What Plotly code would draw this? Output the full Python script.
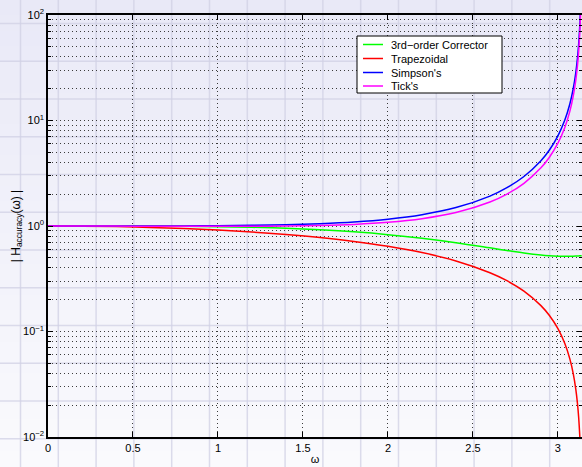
import plotly.graph_objects as go

# ---------------- data ----------------
omega = [0.0, 0.2, 0.4, 0.6, 0.8, 1.0, 1.2, 1.4, 1.6, 1.8, 2.0, 2.2, 2.4, 2.6, 2.7,
         2.8, 2.9, 2.95, 3.0, 3.04, 3.07, 3.09, 3.105, 3.115, 3.122, 3.128, 3.132,
         3.136, 3.14]

corrector = [1.0, 1.0, 0.9996, 0.9981, 0.9941, 0.9861, 0.9723, 0.9510, 0.9205, 0.8797,
             0.8280, 0.7657, 0.6948, 0.6207, 0.5856, 0.5546, 0.5306, 0.5224, 0.5173,
             0.5158, 0.5162, 0.5174, 0.5187, 0.5198, 0.5207, 0.5215, 0.5220, 0.5227,
             0.5233]

trapezoidal = [1.0, 0.9967, 0.9866, 0.9698, 0.9461, 0.9152, 0.8770, 0.8311, 0.7770,
               0.7142, 0.6421, 0.5599, 0.4665, 0.3609, 0.3030, 0.2415, 0.1760, 0.1417,
               0.1064, 0.0773, 0.0550, 0.0399, 0.0284, 0.0207, 0.0153, 0.0106, 0.0075,
               0.0044, 0.00125]

simpson = [1.0, 1.0, 1.0001, 1.0008, 1.0025, 1.0063, 1.0139, 1.0276, 1.0516, 1.0922,
           1.1612, 1.2803, 1.4954, 1.9218, 2.3079, 2.9471, 4.1577, 5.2585, 7.1571,
           10.043, 14.343, 19.999, 28.309, 39.064, 53.127, 76.713, 108.83, 186.9, 657.2]

tick = [1.0, 0.9995, 0.9981, 0.9961, 0.9940, 0.9926, 0.9933, 0.9980, 1.0103, 1.0354,
        1.0831, 1.1719, 1.3407, 1.6871, 2.0063, 2.5402, 3.5589, 4.4890, 6.0966, 8.5442,
        12.194, 16.997, 24.056, 33.191, 45.139, 65.177, 92.466, 158.79, 558.3]

series_names = ["3rd\u2212order Corrector", "Trapezoidal", "Simpson's", "Tick's"]
series_values = [corrector, trapezoidal, simpson, tick]
series_colors = ["#00ff00", "#ff0000", "#0000ff", "#ff00ff"]

x_ticks = [0, 0.5, 1, 1.5, 2, 2.5, 3]
x_tick_labels = ["0", "0.5", "1", "1.5", "2", "2.5", "3"]
y_ticks = [0.01, 0.1, 1, 10, 100]
y_tick_labels = ["10<sup>\u22122</sup>", "10<sup>\u22121</sup>", "10<sup>0</sup>",
                 "10<sup>1</sup>", "10<sup>2</sup>"]
y_minor_ticks = [k * 10.0 ** e for e in range(-2, 2) for k in range(2, 10)]

# ---------------- layout geometry ----------------
W, H = 582, 467
ML, MR, MT, MB = 48, 0, 15, 30
PW, PH = W - ML - MR, H - MT - MB


def px(xp):
    return (xp - ML) / PW


def py(yp):
    return (H - MB - yp) / PH


FONT = "Liberation Sans, Arial, Helvetica, sans-serif"
GRID = "#3c3c3c"
DASH = "1px,3px"

fig = go.Figure()
for name, vals, col in zip(series_names, series_values, series_colors):
    fig.add_trace(go.Scatter(x=omega, y=vals, mode="lines", name=name,
                             line=dict(color=col, width=1.5, shape="spline",
                                       smoothing=1.0),
                             showlegend=False))

shapes = []
# soft vertical gradient background
nb = 30
c_top = (233, 233, 247)
c_bot = (250, 250, 253)
for i in range(nb):
    t = (i + 0.5) / nb
    c = tuple(round(a + (b - a) * t) for a, b in zip(c_top, c_bot))
    shapes.append(dict(type="rect", xref="paper", yref="paper", layer="below",
                       x0=px(0), x1=px(W + 2), y0=py(H * (i + 1) / nb + 0.5),
                       y1=py(H * i / nb - 0.5),
                       fillcolor="rgb(%d,%d,%d)" % c, line=dict(width=0)))
# faint graph-paper lines of the background
bg_line = "rgba(208,208,228,0.75)"
k = 0
while 20.5 + 37.8 * k < W + 5:
    xv = 20.5 + 37.8 * k
    shapes.append(dict(type="line", xref="paper", yref="paper", layer="below",
                       x0=px(xv), x1=px(xv), y0=py(H + 2), y1=py(-2),
                       line=dict(color=bg_line, width=1.5)))
    k += 1
k = 0
while 23.4 + 37.75 * k < H + 5:
    yv = 23.4 + 37.75 * k
    shapes.append(dict(type="line", xref="paper", yref="paper", layer="below",
                       x0=px(-2), x1=px(W + 2), y0=py(yv), y1=py(yv),
                       line=dict(color=bg_line, width=1.5)))
    k += 1

# legend box (MATLAB style)
leg_l, leg_r, leg_t, leg_b = 357, 502, 36, 93
shapes.append(dict(type="rect", xref="paper", yref="paper", layer="above",
                   x0=px(leg_l), x1=px(leg_r), y0=py(leg_b), y1=py(leg_t),
                   fillcolor="white", line=dict(color="black", width=1)))
annotations = []
leg_rows = [44.5, 58.5, 72.5, 86.0]
for name, col, yc in zip(series_names, series_colors, leg_rows):
    shapes.append(dict(type="line", xref="paper", yref="paper", layer="above",
                       x0=px(363), x1=px(383), y0=py(yc), y1=py(yc),
                       line=dict(color=col, width=1.5)))
    annotations.append(dict(xref="paper", yref="paper", x=px(389), y=py(yc + 0.5),
                            xanchor="left", yanchor="middle", text=name,
                            showarrow=False, font=dict(family=FONT, size=11,
                                                       color="black")))

fig.update_layout(
    template="none",
    width=W, height=H,
    margin=dict(l=ML, r=MR, t=MT, b=MB, pad=0, autoexpand=False),
    paper_bgcolor="rgb(241,241,250)",
    plot_bgcolor="rgba(0,0,0,0)",
    font=dict(family=FONT, size=11, color="black"),
    showlegend=False,
    shapes=shapes,
    annotations=annotations,
    xaxis=dict(
        range=[0, 3.14159265], tickmode="array", tickvals=x_ticks,
        ticktext=x_tick_labels, ticks="inside", ticklen=5, tickwidth=1,
        tickcolor="black", showline=True, linecolor="black", linewidth=1.5,
        mirror="ticks", showgrid=True, gridcolor=GRID, griddash=DASH,
        gridwidth=1, zeroline=False, automargin=False,
        tickfont=dict(family=FONT, size=11),
        title=dict(text="\u03c9", standoff=2, font=dict(family=FONT, size=11)),
    ),
    yaxis=dict(
        type="log", range=[-2, 2], tickmode="array", tickvals=y_ticks,
        ticktext=y_tick_labels, ticks="inside", ticklen=5, tickwidth=1,
        tickcolor="black", showline=True, linecolor="black", linewidth=1.5,
        mirror="ticks", showgrid=True, gridcolor=GRID, griddash=DASH,
        gridwidth=1, zeroline=False, automargin=False,
        tickfont=dict(family=FONT, size=11),
        minor=dict(tickmode="array", tickvals=y_minor_ticks, ticks="inside",
                   ticklen=3, tickcolor="black", tickwidth=1, showgrid=True,
                   gridcolor=GRID, griddash=DASH, gridwidth=1),
        title=dict(text="| H<sub>accuracy</sub>(\u03c9) |", standoff=0,
                   font=dict(family=FONT, size=12)),
    ),
)

fig.write_html("out.html")
